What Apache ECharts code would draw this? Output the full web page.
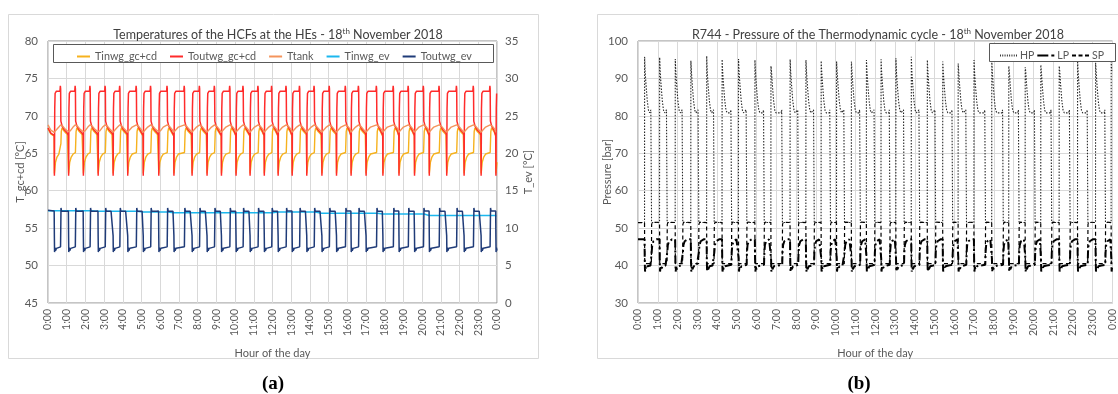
<!DOCTYPE html>
<html><head><meta charset="utf-8">
<script src="https://cdn.jsdelivr.net/npm/echarts@6/dist/echarts.min.js"></script>
<style>html,body{margin:0;padding:0;background:#fff}#c{width:1118px;height:394px}</style>
</head><body><div id="c"></div><script>
// ---------- values ----------
const hourLabels = ['0:00','1:00','2:00','3:00','4:00','5:00','6:00','7:00','8:00','9:00','10:00','11:00','12:00','13:00','14:00','15:00','16:00','17:00','18:00','19:00','20:00','21:00','22:00','23:00','0:00'];
// start of each compressor on-period [h]
const cycleStart = [0.33,1.09,1.88,2.67,3.47,4.25,5.08,5.91,6.72,7.69,8.49,9.26,10.04,10.79,11.55,12.29,13.04,13.82,14.63,15.41,16.19,16.99,17.89,18.75,19.58,20.37,21.30,22.23,23.14,23.93];
// length of each on-period [h]
const cycleOn = [0.35,0.38,0.38,0.40,0.38,0.48,0.42,0.47,0.58,0.42,0.42,0.47,0.40,0.45,0.42,0.45,0.42,0.42,0.42,0.50,0.42,0.58,0.58,0.52,0.50,0.55,0.55,0.52,0.50,0.50];
// HP peak of each cycle [bar]
const hpPeak = [95.8,95.6,95.2,94.7,96.0,95.1,95.2,94.9,93.3,95.1,94.9,94.7,94.5,94.5,94.9,95.1,95.4,95.8,94.9,94.5,94.0,94.9,94.7,93.3,93.0,93.6,93.3,94.7,94.2,94.5];
// Tinwg_ev level during each cycle [°C]
const evInBase = [12.33,12.33,12.33,12.25,12.25,12.25,12.15,12.15,12.07,12.07,12.07,12.07,12.07,12.07,12.07,12.15,12.15,12.15,12.0,12.0,12.0,12.0,11.9,11.9,11.9,11.7,11.7,11.7,11.7,11.7];

// cycle shapes: [offset from on-start, value] and [offset from on-end, value]
const toutGcInit = [[0,68.4],[0.15,67.7]];
const toutGcOn   = [[0,67.4],[0.006,65.0],[0.012,62.0],[0.03,71.0],[0.05,73.0],[0.12,73.3]];
const toutGcOff  = [[-0.04,73.3],[-0.02,74.0],[-0.005,73.6],[0.008,69.3],[0.08,68.6],[0.2,68.1],[0.35,67.7]];
const tinGcInit  = [[0,68.3],[0.15,67.6]];
const tinGcOn    = [[0,67.3],[0.012,62.3],[0.03,62.7],[0.07,63.8],[0.15,64.5],[0.25,64.9]];
const tinGcOff   = [[-0.005,65.1],[0.01,66.3],[0.03,67.9],[0.07,68.4],[0.2,67.9],[0.35,67.5]];
const tankInit   = [[0,68.8],[0.15,68.1]];
const tankOn     = [[0,67.8],[0.1,68.0],[0.25,68.5]];
const tankOff    = [[-0.005,68.8],[0.04,69.0],[0.12,68.6],[0.25,68.2],[0.4,67.9]];
const toutEvInit = [[0,12.4]];
const toutEvOn   = [[0,12.3],[0.01,9.0],[0.02,6.8],[0.04,7.4],[0.07,7.0],[0.12,7.3],[0.2,7.2]];
const toutEvOff  = [[-0.01,7.5],[0.005,10.5],[0.015,12.7],[0.04,12.3],[0.3,12.25]];
const tinEvInit  = [[0,0]];
const tinEvOn    = [[0,0],[0.02,-0.15]];
const tinEvOff   = [[0.03,0]];
const hpInit     = [[0,51.5]];
const hpOn       = [[0,51.5],[0.005,'P'],[0.03,92],[0.08,88],[0.14,84],[0.2,81.5],[0.26,80.8]];
const hpOff      = [[-0.06,80.8],[-0.03,81.6],[-0.005,81.3],[0.005,51.5],[0.1,51.3]];
const lpInit     = [[0,47.0]];
const lpOn       = [[0,47.0],[0.01,42.0],[0.025,38.4],[0.05,39.6],[0.08,39.0],[0.15,39.8],[0.3,40.0]];
const lpOff      = [[-0.005,40.2],[0.01,43.5],[0.04,45.5],[0.1,46.5],[0.25,47.0]];
const spInit     = [[0,51.5]];
const spOn       = [[0,51.5],[0.01,40.5],[0.1,40.3]];
const spOff      = [[-0.005,40.5],[0.01,51.0],[0.05,51.6]];

function build(init, on, off, val) {
  val = val || ((i, v) => v);
  const pts = [];
  let last = -1;
  const add = (t, v, lim) => { if (t > last && t <= lim) { pts.push([+t.toFixed(4), v]); last = t; } };
  init.forEach(([t, v]) => add(t, val(0, v), cycleStart[0] - 0.001));
  cycleStart.forEach((t0, i) => {
    const t1 = t0 + cycleOn[i];
    const tn = i + 1 < cycleStart.length ? cycleStart[i + 1] - 0.001 : 24;
    on.forEach(([dt, v]) => add(t0 + dt, val(i, v), Math.min(t1 + off[0][0] - 0.001, 24)));
    off.forEach(([dt, v]) => add(t1 + dt, val(i, v), Math.min(tn, 24)));
  });
  return pts;
}

const FONT = 'Lato';
const LBL = '#595959';
const xAxisCommon = (gi) => ({
  gridIndex: gi, type: 'value', min: 0, max: 24, interval: 1,
  name: 'Hour of the day', nameLocation: 'middle', nameGap: 45, nameMoveOverlap: false,
  nameTextStyle: {fontFamily: FONT, fontSize: 11, color: LBL},
  axisLine: {show: false}, axisTick: {show: false},
  axisLabel: {rotate: 90, margin: 6, fontFamily: FONT, fontSize: 10.5, color: LBL,
    formatter: v => hourLabels[v]},
  splitLine: {lineStyle: {color: '#d9d9d9', width: 1}}
});
const yLbl = {fontFamily: FONT, fontSize: 11.5, color: LBL};
const yName = {fontFamily: FONT, fontSize: 11, color: LBL};

const iconSolid = 'path://M0,0h13v2h-13z';
const iconDot = 'path://M0,0h1v2h-1zM2.5,0h1v2h-1zM5,0h1v2h-1zM7.5,0h1v2h-1zM10,0h1v2h-1zM12.5,0h1v2h-1zM15,0h1v2h-1zM17.5,0h1v2h-1z';
const iconDashDot = 'path://M0,0h11v2h-11zM14,0h3v2h-3z';
const iconDash = 'path://M0,0h4v2h-4zM6.5,0h4v2h-4zM13,0h4v2h-4z';

const chart = echarts.init(document.getElementById('c'), null, {renderer: 'canvas'});
chart.setOption({
  animation: false,
  backgroundColor: '#fff',
  title: [
    {text: 'Temperatures of the HCFs at the HEs - 18{sup|th} November 2018', left: 273, top: 22, textAlign: 'center',
     textStyle: {fontFamily: FONT, fontSize: 12.5, fontWeight: 'normal', color: '#404040', lineHeight: 16,
       rich: {sup: {fontFamily: FONT, fontSize: 8, color: '#404040', verticalAlign: 'top', lineHeight: 16, padding: [0,0,6,0]}}}},
    {text: 'R744 - Pressure of the Thermodynamic cycle - 18{sup|th} November 2018', left: 873, top: 22, textAlign: 'center',
     textStyle: {fontFamily: FONT, fontSize: 12.5, fontWeight: 'normal', color: '#404040', lineHeight: 16,
       rich: {sup: {fontFamily: FONT, fontSize: 8, color: '#404040', verticalAlign: 'top', lineHeight: 16, padding: [0,0,6,0]}}}}
  ],
  legend: [
    {data: [
       {name: 'Tinwg_gc+cd', icon: iconSolid}, {name: 'Toutwg_gc+cd', icon: iconSolid}, {name: 'Ttank', icon: iconSolid},
       {name: 'Tinwg_ev', icon: iconSolid}, {name: 'Toutwg_ev', icon: iconSolid}],
     left: 72, top: 46, width: 440, itemWidth: 13, itemHeight: 2, itemGap: 13,
     textStyle: {fontFamily: FONT, fontSize: 10.8, color: LBL}, z: 10},
    {data: [{name: 'HP', icon: iconDot}, {name: 'LP', icon: iconDashDot}, {name: 'SP', icon: iconDash}],
     left: 995, top: 45, width: 160, itemWidth: 17, itemHeight: 2, itemGap: 3,
     textStyle: {fontFamily: FONT, fontSize: 10.5, color: LBL, padding: [0, 0, 0, -2]}, z: 10}
  ],
  grid: [
    {left: 48, top: 41, width: 449, height: 262, show: true, borderColor: '#8a8a8a', borderWidth: 1, backgroundColor: '#fff'},
    {left: 638, top: 41, width: 478, height: 262, show: true, borderColor: '#8a8a8a', borderWidth: 1, backgroundColor: '#fff'}
  ],
  xAxis: [xAxisCommon(0), xAxisCommon(1)],
  yAxis: [
    {gridIndex: 0, type: 'value', min: 45, max: 80, interval: 5, position: 'left',
     name: 'T_gc+cd [°C]', nameLocation: 'middle', nameRotate: 90, nameGap: 22, nameMoveOverlap: false,
     nameTextStyle: yName,
     axisLine: {show: false}, axisTick: {show: false}, axisLabel: Object.assign({margin: 10}, yLbl),
     splitLine: {lineStyle: {color: '#d9d9d9'}}},
    {gridIndex: 0, type: 'value', min: 0, max: 35, interval: 5, position: 'right',
     name: 'T_ev [°C]', nameLocation: 'middle', nameRotate: 90, nameGap: 26, nameMoveOverlap: false,
     nameTextStyle: yName,
     axisLine: {show: false}, axisTick: {show: false}, axisLabel: Object.assign({margin: 8}, yLbl),
     splitLine: {show: false}},
    {gridIndex: 1, type: 'value', min: 30, max: 100, interval: 10, position: 'left',
     name: 'Pressure [bar]', nameLocation: 'middle', nameRotate: 90, nameGap: 25, nameMoveOverlap: false,
     nameTextStyle: yName,
     axisLine: {show: false}, axisTick: {show: false}, axisLabel: Object.assign({margin: 10}, yLbl),
     splitLine: {lineStyle: {color: '#d9d9d9'}}}
  ],
  series: [
    {name: 'Tinwg_gc+cd', type: 'line', xAxisIndex: 0, yAxisIndex: 0, symbol: 'none', lineStyle: {color: '#F6B21E', width: 1.4}, itemStyle: {color: '#F6B21E'},
     data: build(tinGcInit, tinGcOn, tinGcOff)},
    {name: 'Toutwg_gc+cd', type: 'line', xAxisIndex: 0, yAxisIndex: 0, symbol: 'none', lineStyle: {color: '#FF2B2B', width: 1.5}, itemStyle: {color: '#FF2B2B'},
     data: build(toutGcInit, toutGcOn, toutGcOff)},
    {name: 'Ttank', type: 'line', xAxisIndex: 0, yAxisIndex: 0, symbol: 'none', lineStyle: {color: '#F4945C', width: 1.4}, itemStyle: {color: '#F4945C'},
     data: build(tankInit, tankOn, tankOff)},
    {name: 'Tinwg_ev', type: 'line', xAxisIndex: 0, yAxisIndex: 1, symbol: 'none', lineStyle: {color: '#1BB7EE', width: 1.5}, itemStyle: {color: '#1BB7EE'},
     data: build(tinEvInit, tinEvOn, tinEvOff, (i, v) => +(evInBase[i] + v).toFixed(2))},
    {name: 'Toutwg_ev', type: 'line', xAxisIndex: 0, yAxisIndex: 1, symbol: 'none', lineStyle: {color: '#1F3B78', width: 1.5}, itemStyle: {color: '#1F3B78'},
     data: build(toutEvInit, toutEvOn, toutEvOff)},
    {name: 'HP', type: 'line', xAxisIndex: 1, yAxisIndex: 2, symbol: 'none', lineStyle: {color: '#262626', width: 1.1, type: [1.5, 1.5]}, itemStyle: {color: '#262626'},
     data: build(hpInit, hpOn, hpOff, (i, v) => v === 'P' ? hpPeak[i] : v)},
    {name: 'LP', type: 'line', xAxisIndex: 1, yAxisIndex: 2, symbol: 'none', lineStyle: {color: '#000', width: 2, type: [8, 3, 2, 3]}, itemStyle: {color: '#000'},
     data: build(lpInit, lpOn, lpOff)},
    {name: 'SP', type: 'line', xAxisIndex: 1, yAxisIndex: 2, symbol: 'none', lineStyle: {color: '#000', width: 1.2, type: [4, 3]}, itemStyle: {color: '#000'},
     data: build(spInit, spOn, spOff)}
  ],
  graphic: [
    {type: 'rect', z: 0, silent: true, shape: {x: 8.5, y: 14.5, width: 530, height: 344}, style: {fill: 'none', stroke: '#d9d9d9', lineWidth: 1}},
    {type: 'rect', z: 0, silent: true, shape: {x: 597.5, y: 14.5, width: 540, height: 344}, style: {fill: 'none', stroke: '#d9d9d9', lineWidth: 1}},
    {type: 'rect', z: 9, silent: true, shape: {x: 53.5, y: 44.5, width: 440, height: 18}, style: {fill: '#fff', stroke: '#595959', lineWidth: 1}},
    {type: 'rect', z: 9, silent: true, shape: {x: 989.5, y: 43.5, width: 126, height: 18}, style: {fill: '#fff', stroke: '#595959', lineWidth: 1}},
    {type: 'text', z: 9, silent: true, style: {text: '(a)', x: 273, y: 384, textAlign: 'center', textVerticalAlign: 'middle', font: 'bold 19px "Liberation Serif"', fill: '#000'}},
    {type: 'text', z: 9, silent: true, style: {text: '(b)', x: 859, y: 384, textAlign: 'center', textVerticalAlign: 'middle', font: 'bold 19px "Liberation Serif"', fill: '#000'}}
  ]
});
</script></body></html>
